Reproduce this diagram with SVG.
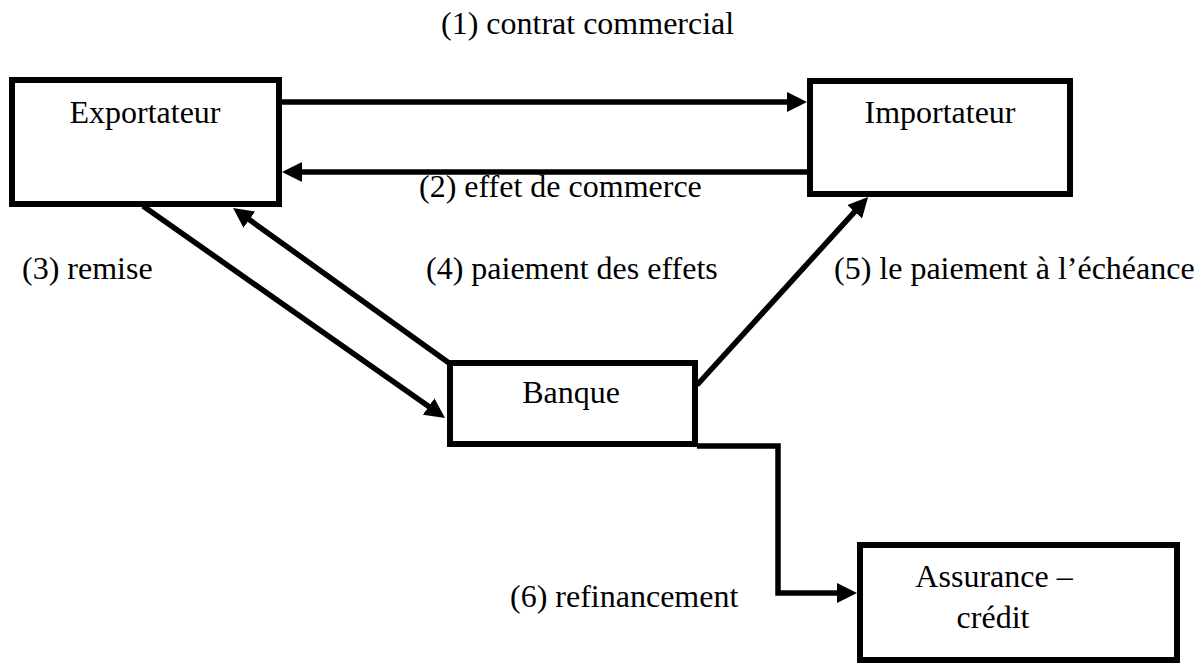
<svg xmlns="http://www.w3.org/2000/svg" width="1203" height="664" viewBox="0 0 1203 664">
  <style>
    .box { fill: #ffffff; stroke: #000000; stroke-width: 6; }
    .lbl { font-family: "Liberation Serif", "Times New Roman", serif; font-size: 32px; fill: #000000; }
    .con { fill: none; stroke: #000000; stroke-width: 5.5; stroke-linejoin: miter; }
  </style>
  <defs>
    <!-- tip sits 12 units beyond the end of the line -->
    <marker id="arrow" markerUnits="userSpaceOnUse" markerWidth="22" markerHeight="20" refX="8" refY="10" orient="auto">
      <path d="M0,0 L20,10 L0,20 z" fill="#000000"/>
    </marker>
  </defs>

  <g id="exportateur">
    <rect class="box" x="12" y="80" width="267" height="124"/>
    <text class="lbl" x="145" y="123" text-anchor="middle">Exportateur</text>
  </g>

  <g id="importateur">
    <rect class="box" x="810" y="81" width="260" height="113"/>
    <text class="lbl" x="940" y="123" text-anchor="middle">Importateur</text>
  </g>

  <g id="banque">
    <rect class="box" x="450" y="363" width="245" height="81"/>
    <text class="lbl" x="571" y="403" text-anchor="middle">Banque</text>
  </g>

  <g id="assurance-credit">
    <rect class="box" x="860" y="545" width="317" height="115"/>
    <text class="lbl" x="994" y="587" text-anchor="middle">Assurance –</text>
    <text class="lbl" x="993" y="628" text-anchor="middle">crédit</text>
  </g>

  <g id="connectors">
    <!-- (1) contrat commercial -->
    <line class="con" x1="282" y1="102" x2="795" y2="102" marker-end="url(#arrow)"/>
    <!-- (2) effet de commerce -->
    <line class="con" x1="807" y1="172" x2="294" y2="172" marker-end="url(#arrow)"/>
    <!-- (3) remise -->
    <line class="con" x1="143" y1="206" x2="435.2" y2="411.1" marker-end="url(#arrow)"/>
    <!-- (4) paiement des effets -->
    <line class="con" x1="449" y1="363" x2="242.8" y2="215" marker-end="url(#arrow)"/>
    <!-- (5) le paiement à l'échéance -->
    <line class="con" x1="697" y1="385" x2="860" y2="205.9" marker-end="url(#arrow)"/>
    <!-- (6) refinancement -->
    <path class="con" d="M697,446 H778 V593 H845" marker-end="url(#arrow)"/>
  </g>

  <g id="labels">
    <text class="lbl" x="441" y="34">(1) contrat commercial</text>
    <text class="lbl" x="419" y="197">(2) effet de commerce</text>
    <text class="lbl" x="22" y="279">(3) remise</text>
    <text class="lbl" x="426" y="279">(4) paiement des effets</text>
    <text class="lbl" x="834" y="279">(5) le paiement à l’échéance</text>
    <text class="lbl" x="510" y="607">(6) refinancement</text>
  </g>
</svg>
